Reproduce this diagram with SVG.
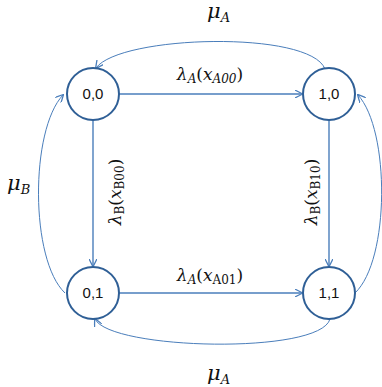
<svg xmlns="http://www.w3.org/2000/svg" width="382" height="387" viewBox="0 0 382 387">
<defs>
<marker id="ah" viewBox="0 0 10 10" refX="9" refY="5" markerWidth="8" markerHeight="8" markerUnits="userSpaceOnUse" orient="auto">
<path d="M0,0 L10,5 L0,10" fill="none" stroke="#4a7ebb" stroke-width="1.6"/>
</marker>
</defs>
<style>
.node circle{fill:#fff;stroke:#2f5f96;stroke-width:2}
.node text{font-family:"Liberation Sans","Open Sans",sans-serif;font-size:15px;fill:#111;text-anchor:middle}
.edge{fill:none;stroke:#4a7ebb;stroke-width:1.4;marker-end:url(#ah)}
.arc{fill:none;stroke:#4a7ebb;stroke-width:1;marker-end:url(#ah)}
.lbl{font-family:"DejaVu Serif","Liberation Serif",serif;font-size:17px;fill:#111;text-anchor:middle}
.mu{font-family:"DejaVu Serif","Liberation Serif",serif;font-size:21px;font-style:italic;fill:#111}
.it{font-style:italic}
</style>
<rect width="382" height="387" fill="#fff"/>
<g id="connectors">
<path class="edge" d="M119,94 L302,94"/>
<path class="edge" d="M119,293 L302,293"/>
<path class="edge" d="M93,120 L93,266"/>
<path class="edge" d="M329,120 L329,266"/>
<path class="arc" d="M325,69 C310,30 120,35 96,68"/>
<path class="arc" d="M65,293 C30,260 30,130 63,95"/>
<path class="arc" d="M355,293 C390,260 390,130 358,95"/>
<path class="arc" d="M330,319 C320,355 110,350 95,319"/>
</g>
<g id="n00" class="node"><circle cx="93" cy="94" r="26"/><text x="93" y="99">0,0</text></g>
<g id="n10" class="node"><circle cx="329" cy="94" r="26"/><text x="329" y="99">1,0</text></g>
<g id="n01" class="node"><circle cx="93" cy="293" r="26"/><text x="93" y="298">0,1</text></g>
<g id="n11" class="node"><circle cx="329" cy="293" r="26"/><text x="329" y="298">1,1</text></g>
<g id="labels">
<text class="mu" x="207" y="18">μ<tspan font-size="13" dy="4">A</tspan></text>
<text class="mu" x="207" y="380">μ<tspan font-size="13" dy="4">A</tspan></text>
<text class="mu" x="7" y="190">μ<tspan font-size="13" dy="4">B</tspan></text>
<text class="lbl" x="210" y="80"><tspan class="it">λ</tspan><tspan class="it" font-size="12" dy="3">A</tspan><tspan dy="-3">(</tspan><tspan class="it">x</tspan><tspan class="it" font-size="12" dy="3">A00</tspan><tspan dy="-3">)</tspan></text>
<text class="lbl" x="210" y="281"><tspan class="it">λ</tspan><tspan class="it" font-size="12" dy="3">A</tspan><tspan dy="-3">(</tspan><tspan class="it">x</tspan><tspan font-size="12" dy="3">A01</tspan><tspan dy="-3">)</tspan></text>
<text class="lbl" transform="translate(121,192) rotate(-90)"><tspan class="it">λ</tspan><tspan font-size="12" dy="3">B</tspan><tspan dy="-3">(</tspan><tspan class="it">x</tspan><tspan font-size="12" dy="3">B00</tspan><tspan dy="-3">)</tspan></text>
<text class="lbl" transform="translate(317,192) rotate(-90)"><tspan class="it">λ</tspan><tspan font-size="12" dy="3">B</tspan><tspan dy="-3">(</tspan><tspan class="it">x</tspan><tspan font-size="12" dy="3">B10</tspan><tspan dy="-3">)</tspan></text>
</g>
</svg>
